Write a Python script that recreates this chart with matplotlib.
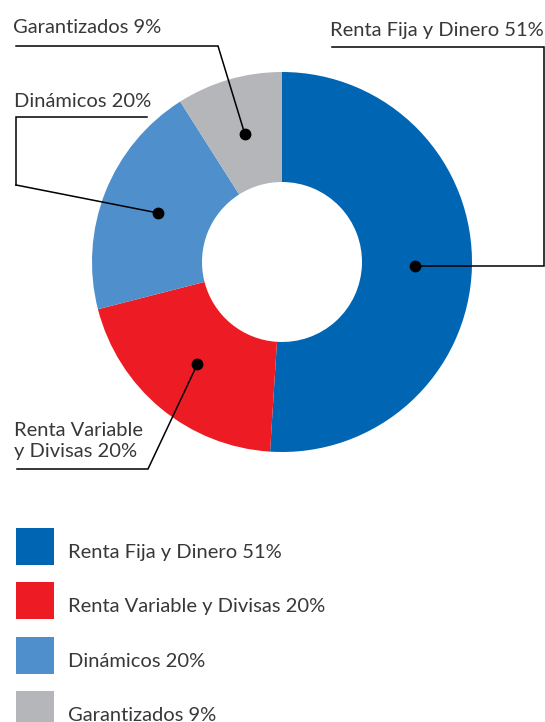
import numpy as np
import matplotlib
matplotlib.use('Agg')
import matplotlib.pyplot as plt
from matplotlib.patches import Rectangle

# Portfolio breakdown (percent)
categories = ['Renta Fija y Dinero', 'Renta Variable y Divisas', 'Dinámicos', 'Garantizados']
values = [51, 20, 20, 9]
colors = ['#0066b3', '#ed1c24', '#4f8fcc', '#b5b6b9']

# Callout text for each slice (two lines where the label is long)
callout_text = ['Renta Fija y Dinero 51%', 'Renta Variable\ny Divisas 20%',
                'Dinámicos 20%', 'Garantizados 9%']

W, H = 545, 722
FONT = dict(family=['Lato', 'DejaVu Sans'], weight='normal', color='#383838')
FS = 14.5

fig = plt.figure(figsize=(W / 100, H / 100), dpi=100)
ax = fig.add_axes([0, 0, 1, 1])

# Donut: pixel-like coordinates, y grows downwards
cx, cy, R, hole = 282, 262, 190, 80
wedges, _ = ax.pie(values, colors=colors, startangle=-90, counterclock=True,
                   center=(cx, cy), radius=R,
                   wedgeprops=dict(width=R - hole, linewidth=0))

ax.set_xlim(0, W)
ax.set_ylim(H, 0)
ax.set_aspect('equal')
ax.axis('off')

# Leader lines: fixed elbows, last point goes to the dot in the slice
elbows = [
    [(332, 47), (544, 47), (544, 'dot')],
    [(17, 469), (148, 469)],
    [(16, 185)],
    [(16, 46), (218, 46)],
]
text_pos = [(544, 36, 'right'), (14, 457, 'left'), (14, 107, 'left'), (13, 33, 'left')]

for i, w in enumerate(wedges):
    mid = np.deg2rad((w.theta1 + w.theta2) / 2)
    dx, dy = cx + 0.7 * R * np.cos(mid), cy + 0.7 * R * np.sin(mid)
    pts = [(x, dy if y == 'dot' else y) for x, y in elbows[i]]
    xs = [p[0] for p in pts] + [dx]
    ys = [p[1] for p in pts] + [dy]
    ax.plot(xs, ys, color='black', lw=1.1, solid_joinstyle='miter')
    if i == 2:
        # underline plus drop for the Dinámicos label
        ax.plot([147, 16, 16], [117, 117, 185], color='black', lw=1.1,
                solid_joinstyle='miter')
    ax.plot(dx, dy, 'o', color='black', ms=7.5)

    tx, ty, ha = text_pos[i]
    ax.text(tx, ty, callout_text[i], ha=ha, va='baseline', fontsize=FS,
            linespacing=1.3, **FONT)

# Legend: colour squares with labels below the donut
legend_top = [528, 582, 637, 691]
for i, (cat, val) in enumerate(zip(categories, values)):
    y0 = legend_top[i]
    ax.add_patch(Rectangle((16, y0), 38, 37, color=colors[i], lw=0))
    ax.text(68, y0 + 30, '%s %d%%' % (cat, val), ha='left', va='baseline',
            fontsize=FS, **FONT)

fig.savefig('out.png', dpi=100)
